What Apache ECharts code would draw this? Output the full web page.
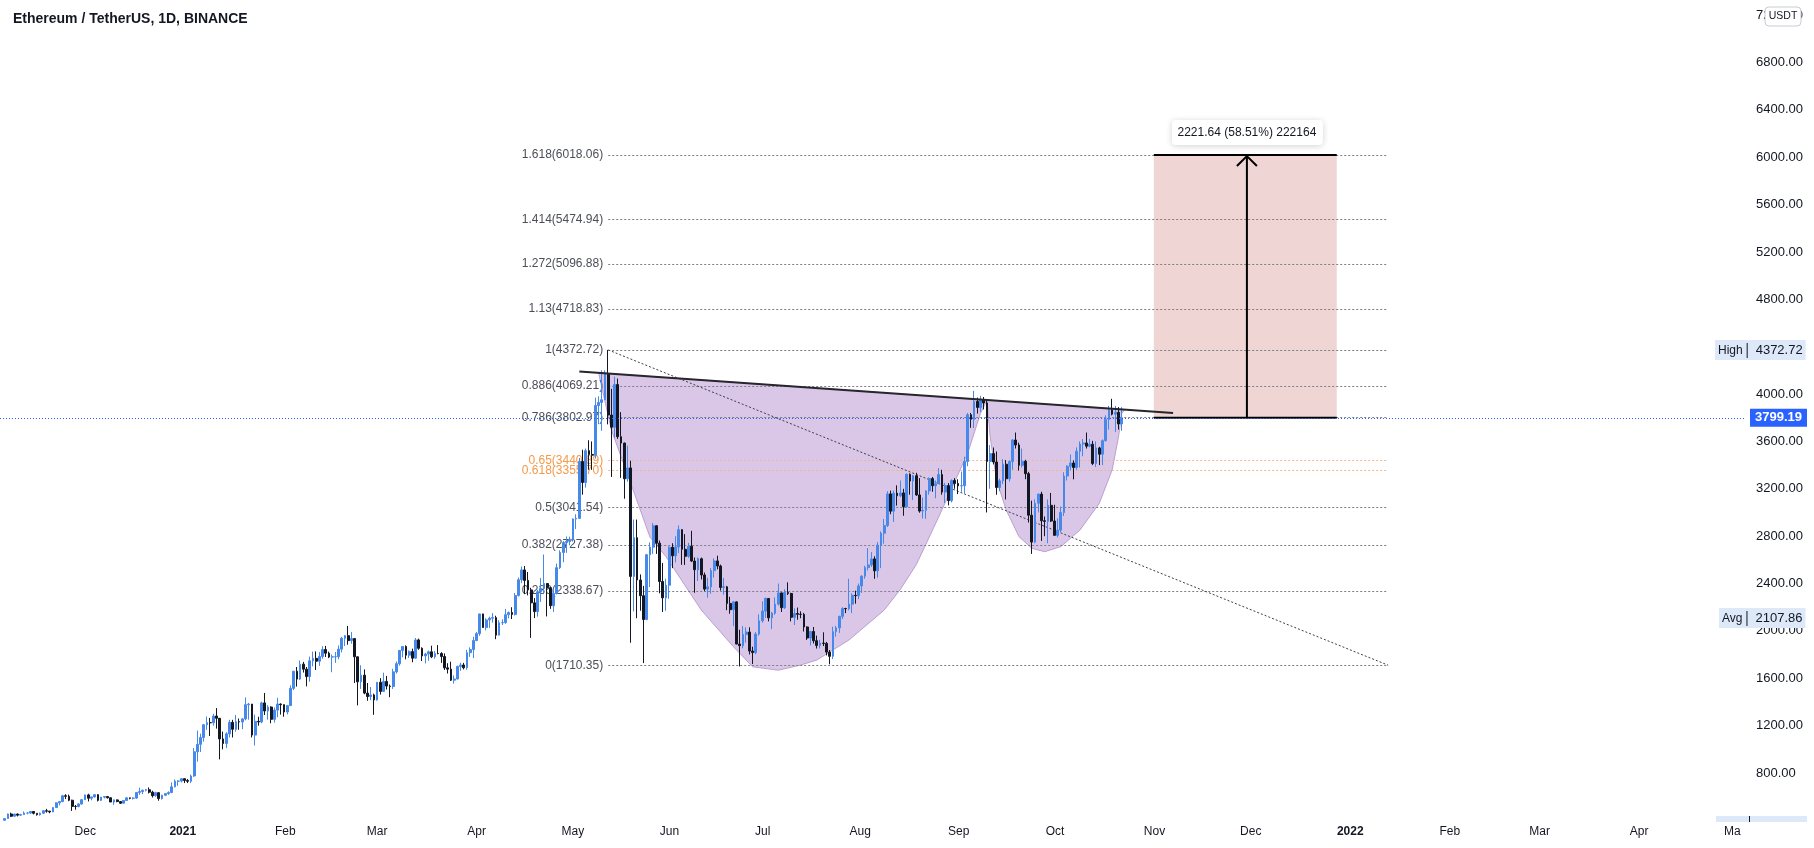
<!DOCTYPE html>
<html><head><meta charset="utf-8">
<script src="https://cdn.jsdelivr.net/npm/echarts@6/dist/echarts.min.js"></script>
<style>html,body{margin:0;padding:0;background:#fff}#c{width:1814px;height:848px}</style>
</head><body><div id="c"></div><script>
// ---------- DATA ----------
const titleText = 'Ethereum / TetherUS, 1D, BINANCE';
const firstDay = [2020, 10, 4];          // first slot on the time axis (2020-11-04)
const dayCount = 544;                     // slots up to 2022-05-01
const firstCandleDate = '2020-11-05';
// daily rows: [open, high, low, close]
const nov2020 = [[401,419,398,415],[415,457,414,454],[454,465,428,435],[435,455,432,453],[453,458,433,444],[444,455,440,449],[449,475,448,462],[462,467,451,462],[462,478,455,475],[475,476,450,460],[460,461,440,448],[448,466,440,460],[460,485,455,481],[481,497,465,478],[478,480,460,471],[471,512,470,508],[508,552,508,548],[548,562,527,559],[559,615,553,608],[608,621,580,603],[603,618,562,570],[570,575,480,518],[518,530,490,517],[517,545,510,538],[538,579,533,575],[575,617,571,615]];
const dec2020 = [[615,625,560,587],[587,599,570,598],[598,622,593,617],[617,621,560,569],[569,598,563,596],[596,605,585,601],[601,605,584,591],[591,592,555,555],[555,576,531,573],[573,576,553,559],[559,560,538,545],[545,570,543,568],[568,597,566,590],[590,591,578,586],[586,595,576,588],[588,638,582,636],[636,676,616,643],[643,660,622,654],[654,666,645,659],[659,678,627,638],[638,650,593,608],[608,642,600,634],[634,636,566,584],[584,616,576,612],[612,628,605,626],[626,645,615,635],[635,720,630,683],[683,745,679,731],[731,738,692,732],[732,754,720,752],[752,753,715,737]];
const jan2021 = [[737,749,715,730],[730,787,715,775],[775,1011,768,979],[979,1158,895,1042],[1042,1132,977,1100],[1100,1210,1065,1208],[1208,1277,1164,1225],[1225,1265,1113,1224],[1224,1300,1200,1281],[1281,1348,1175,1262],[1262,1264,915,1088],[1088,1150,1000,1049],[1049,1145,1010,1131],[1131,1249,1100,1228],[1228,1249,1100,1169],[1169,1290,1149,1233],[1233,1260,1165,1231],[1231,1263,1170,1257],[1257,1438,1245,1377],[1377,1392,1250,1382],[1382,1383,1100,1120],[1120,1293,1032,1236],[1236,1275,1200,1231],[1231,1402,1220,1392],[1392,1476,1290,1324],[1324,1373,1250,1357],[1357,1363,1220,1253],[1253,1353,1225,1331],[1331,1435,1271,1382],[1382,1388,1293,1377],[1377,1378,1275,1315]];
const feb2021 = [[1315,1375,1295,1369],[1369,1540,1368,1515],[1515,1660,1500,1660],[1660,1695,1530,1593],[1593,1750,1585,1719],[1719,1738,1648,1677],[1677,1695,1531,1614],[1614,1783,1571,1747],[1747,1825,1700,1768],[1768,1827,1670,1744],[1744,1821,1705,1784],[1784,1870,1765,1843],[1843,1873,1780,1812],[1812,1825,1770,1779],[1779,1800,1651,1781],[1781,1822,1730,1782],[1782,1877,1760,1846],[1846,1950,1818,1938],[1938,1964,1872,1960],[1960,2042,1883,1918],[1918,1990,1892,1935],[1935,1940,1560,1781],[1781,1782,1371,1570],[1570,1710,1510,1626],[1626,1675,1465,1475],[1475,1560,1410,1446],[1446,1526,1415,1459],[1459,1470,1291,1417]];
const mar2021 = [[1417,1567,1412,1566],[1566,1601,1462,1489],[1489,1647,1487,1573],[1573,1620,1505,1534],[1534,1547,1440,1530],[1530,1680,1510,1654],[1654,1742,1640,1723],[1723,1838,1706,1835],[1835,1870,1777,1868],[1868,1878,1760,1795],[1795,1835,1772,1825],[1825,1850,1735,1770],[1770,1940,1765,1924],[1924,1935,1840,1853],[1853,1861,1745,1789],[1789,1815,1725,1805],[1805,1834,1748,1823],[1823,1875,1770,1781],[1781,1830,1765,1810],[1810,1880,1802,1809],[1809,1820,1730,1784],[1784,1810,1670,1688],[1688,1727,1640,1677],[1677,1740,1577,1584],[1584,1624,1555,1594],[1594,1706,1590,1700],[1700,1731,1663,1712],[1712,1730,1675,1689],[1689,1840,1672,1816],[1816,1861,1780,1842],[1842,1950,1770,1919]];
const apr2021 = [[1919,1990,1913,1977],[1977,2145,1958,2143],[2143,2145,2028,2028],[2028,2107,2005,2093],[2093,2120,2025,2107],[2107,2150,2070,2112],[2112,2128,1930,1964],[1964,2090,1962,2069],[2069,2098,2050,2070],[2070,2186,2060,2137],[2137,2164,2106,2155],[2155,2200,2100,2139],[2139,2320,2130,2299],[2299,2450,2290,2432],[2432,2543,2403,2515],[2515,2548,2310,2426],[2426,2497,2300,2346],[2346,2364,1941,2237],[2237,2277,2108,2163],[2163,2348,2120,2331],[2331,2446,2245,2358],[2358,2645,2310,2400],[2400,2400,2122,2365],[2365,2371,2186,2213],[2213,2358,2160,2316],[2316,2568,2307,2534],[2534,2680,2523,2662],[2662,2758,2580,2746],[2746,2797,2659,2757],[2757,2796,2723,2773]];
const may2021 = [[2773,2950,2755,2945],[2945,2985,2860,2950],[2950,3460,2945,3431],[3431,3530,3150,3253],[3253,3540,3210,3522],[3522,3610,3360,3490],[3490,3600,3360,3484],[3484,3970,3455,3903],[3903,3980,3745,3929],[3929,4200,3690,3952],[3952,4200,3950,4171],[4171,4372.72,3744,3823],[3823,4044,3300,3720],[3720,4147,3630,4080],[4080,4131,3621,3640],[3640,3847,3292,3586],[3586,3590,3116,3284],[3284,3564,3260,3376],[3376,3437,1900,2460],[2460,2940,2165,2787],[2787,2940,2107,2430],[2430,2477,2170,2297],[2297,2380,1728,2096],[2096,2650,2090,2643],[2643,2747,2370,2707],[2707,2910,2650,2888],[2888,2890,2650,2741],[2741,2763,2317,2417],[2417,2574,2160,2279],[2279,2440,2170,2386],[2386,2714,2271,2706]];
const jun2021 = [[2706,2740,2530,2634],[2634,2800,2579,2708],[2708,2891,2657,2855],[2855,2858,2558,2689],[2689,2817,2557,2630],[2630,2743,2616,2715],[2715,2845,2581,2590],[2590,2620,2322,2517],[2517,2620,2421,2609],[2609,2619,2434,2472],[2472,2493,2335,2353],[2353,2448,2280,2372],[2372,2530,2313,2509],[2509,2612,2450,2591],[2591,2635,2520,2548],[2548,2560,2340,2367],[2367,2447,2306,2372],[2372,2380,2175,2232],[2232,2288,2145,2179],[2179,2250,2040,2245],[2245,2250,1887,1889],[1889,2010,1700,1875],[1875,2040,1853,1970],[1970,2030,1900,1990],[1990,2030,1801,1830],[1830,1866,1720,1817],[1817,1990,1803,1973],[1973,2140,1960,2085],[2085,2250,2070,2167],[2167,2282,2110,2274]];
const jul2021 = [[2274,2275,2080,2110],[2110,2160,2015,2150],[2150,2282,2136,2226],[2226,2400,2214,2321],[2321,2323,2160,2196],[2196,2352,2185,2324],[2324,2410,2303,2316],[2316,2322,2080,2115],[2115,2190,2050,2147],[2147,2197,2094,2140],[2140,2165,2107,2139],[2139,2152,1995,2033],[2033,2038,1924,1940],[1940,2000,1878,1995],[1995,2033,1894,1917],[1917,1960,1851,1877],[1877,1925,1853,1897],[1897,1988,1872,1894],[1894,1907,1793,1821],[1821,1839,1718,1785],[1785,2035,1762,1994],[1994,2042,1951,2025],[2025,2128,1983,2123],[2123,2200,2100,2189],[2189,2195,2150,2187],[2187,2440,2174,2226],[2226,2317,2150,2300],[2300,2340,2230,2297],[2297,2400,2268,2380],[2380,2470,2320,2462],[2462,2550,2440,2535]];
const aug2021 = [[2535,2700,2510,2557],[2557,2665,2540,2608],[2608,2630,2440,2507],[2507,2750,2450,2725],[2725,2840,2530,2825],[2825,2945,2737,2890],[2890,3180,2877,3157],[3157,3185,2985,3011],[3011,3185,2920,3163],[3163,3229,3058,3141],[3141,3270,3130,3165],[3165,3200,2972,3049],[3049,3330,3040,3322],[3322,3330,3150,3266],[3266,3318,3105,3310],[3310,3335,3140,3148],[3148,3290,2998,3012],[3012,3125,2950,3018],[3018,3187,2946,3182],[3182,3297,3150,3286],[3286,3300,3175,3226],[3226,3270,3120,3243],[3243,3375,3240,3320],[3320,3360,3150,3172],[3172,3250,3080,3227],[3227,3249,3060,3100],[3100,3280,3085,3270],[3270,3290,3200,3245],[3245,3280,3155,3225],[3225,3345,3175,3226],[3226,3470,3160,3430]];
const sep2021 = [[3430,3840,3390,3825],[3825,3840,3715,3787],[3787,4027,3713,3937],[3937,3970,3835,3887],[3887,3985,3848,3951],[3951,3975,3870,3925],[3925,3951,3000,3431],[3431,3570,3200,3497],[3497,3549,3406,3426],[3426,3515,3150,3211],[3211,3285,3180,3267],[3267,3450,3240,3407],[3407,3443,3110,3285],[3285,3440,3260,3430],[3430,3620,3360,3612],[3612,3675,3540,3570],[3570,3590,3354,3398],[3398,3540,3380,3433],[3433,3445,3281,3328],[3328,3343,2915,2977],[2977,3100,2650,2750],[2750,3110,2740,3078],[3078,3160,3000,3155],[3155,3175,2760,2930],[2930,2966,2800,2925],[2925,3110,2740,3060],[3060,3165,2920,2928],[2928,3065,2805,2807],[2807,2950,2790,2851],[2851,3050,2835,3000]];
const oct2021 = [[3000,3340,2970,3308],[3308,3400,3270,3390],[3390,3490,3355,3418],[3418,3440,3280,3380],[3380,3550,3360,3517],[3517,3600,3380,3578],[3578,3620,3475,3587],[3587,3675,3540,3560],[3560,3620,3550,3576],[3576,3605,3400,3414],[3414,3600,3385,3545],[3545,3555,3400,3492],[3492,3617,3400,3606],[3606,3820,3600,3786],[3786,3900,3700,3865],[3865,3960,3820,3830],[3830,3900,3680,3846],[3846,3890,3700,3748],[3748,3890,3690,3799.19]];

// Fibonacci retracement
const fibRatios = ['1.618','1.414','1.272','1.13','1','0.886','0.786','0.65','0.618','0.5','0.382','0.236','0'];
const fibPrices = [6018.06,5474.94,5096.88,4718.83,4372.72,4069.21,3802.97,3440.89,3355.70,3041.54,2727.38,2338.67,1710.35];
const fibOrange = ['0.65','0.618'];
const fibStartDate = '2021-05-12';
const fibEndDate = '2022-01-10';
// resistance trend line
const trendDates = ['2021-05-03','2021-11-04'];
const trendPrices = [4190, 3840];
// cup & handle outline (date, price)
const cupDates = ['2021-05-09','2021-10-20','2021-10-19','2021-10-18','2021-10-16','2021-10-12','2021-10-06','2021-09-30','2021-09-25','2021-09-21','2021-09-17','2021-09-13','2021-09-10','2021-09-08','2021-09-07','2021-09-05','2021-09-01','2021-08-23','2021-08-16','2021-08-11','2021-08-06','2021-07-26','2021-07-16','2021-07-11','2021-07-04','2021-06-26','2021-06-20','2021-06-10','2021-05-30','2021-05-25','2021-05-19','2021-05-13'];
const cupPrices = [4179,3868,3837,3640,3359,3077,2852,2711,2669,2697,2795,3021,3274,3640,3950,3837,3500,2964,2560,2350,2176,1923,1754,1712,1668,1697,1867,2176,2627,2793,3249,3696];
// target projection box
const targetDates = ['2021-10-29','2021-12-25'];
const targetPrices = [3799.19, 6018.06];
const arrowDate = '2021-11-27';
const measureLabel = '2221.64 (58.51%) 222164';
// price scale tags
const lastPrice = 3799.19;
const highPrice = 4372.72;
const avgPrice = 2107.86;
const priceTicks = [800,1200,1600,2000,2400,2800,3200,3600,4000,4800,5200,5600,6000,6400,6800,7200];
const monthNames = ['Jan','Feb','Mar','Apr','May','Jun','Jul','Aug','Sep','Oct','Nov','Dec'];

// ---------- BUILD ----------
const categories = [];
for (let i = 0; i < dayCount; i++) {
  const d = new Date(Date.UTC(firstDay[0], firstDay[1], firstDay[2] + i));
  categories.push(d.toISOString().slice(0, 10));
}
const catIndex = {};
categories.forEach((d, i) => { catIndex[d] = i; });
const candleRows = [].concat(nov2020, dec2020, jan2021, feb2021, mar2021, apr2021, may2021, jun2021, jul2021, aug2021, sep2021, oct2021);
const c0 = catIndex[firstCandleDate];
const candleData = categories.map((d, i) => {
  const r = candleRows[i - c0];
  return r ? [r[0], r[3], r[2], r[1]] : '-';
});

const UP = '#4689ea', DOWN = '#131722', TXT = '#131722';
const FONT = 'Liberation Sans';
const NOLINE = { color: 'rgba(0,0,0,0)', width: 0 };

// time-label nudge (px to the left), as placed in the screenshot
const labelNudge = { '2020-12': 3, '2021-01': 5, '2021-02': 2, '2021-06': 3, '2021-07': 6, '2021-08': 8 };
function nudgeOf(ym) { return labelNudge[ym] != null ? labelNudge[ym] : (ym >= '2021-09' ? 9 : 0); }
const xRich = {};
for (let s = 0; s <= 10; s++) {
  xRich['m' + s] = { fontSize: 12, color: TXT, fontFamily: FONT, padding: [0, 2 * s, 0, 0] };
  xRich['y' + s] = { fontSize: 12, color: TXT, fontFamily: FONT, fontWeight: 'bold', padding: [0, 2 * s, 0, 0] };
}

const fibLines = fibRatios.map((r, i) => {
  const orange = fibOrange.includes(r);
  return [
    { coord: [catIndex[fibStartDate], fibPrices[i]],
      lineStyle: { color: orange ? '#f4b48c' : '#7c7f88', type: [2, 2], width: 1 },
      label: { show: true, position: 'start', distance: 5, formatter: r + '(' + fibPrices[i].toFixed(2) + ')',
               color: orange ? '#f3994a' : '#4c4f58', fontSize: 12, fontFamily: FONT } },
    { coord: [catIndex[fibEndDate], fibPrices[i]] }
  ];
});
fibLines.push([
  { coord: [catIndex[fibStartDate], fibPrices[4]], lineStyle: { color: '#3c3f48', type: [2, 2], width: 1 }, label: { show: false } },
  { coord: [catIndex[fibEndDate], fibPrices[12]] }
]);

function tagLabel(name, value, offX) {
  return {
    show: true, position: 'end', distance: 0, offset: [offX, 0], color: TXT,
    formatter: '{n|' + name + '}{a| }{b| }{c| }{v|' + value.toFixed(2) + '}',
    backgroundColor: '#dde9f8', padding: [3, 3, 2, 3],
    rich: {
      n: { color: TXT, fontSize: 12, fontFamily: FONT },
      a: { width: 4 },
      b: { width: 1, height: 15, backgroundColor: TXT },
      c: { width: 8 },
      v: { color: TXT, fontSize: 13, fontFamily: FONT }
    }
  };
}

const chart = echarts.init(document.getElementById('c'), null, { renderer: 'canvas' });
chart.setOption({
  animation: false,
  backgroundColor: '#ffffff',
  textStyle: { fontFamily: FONT },
  title: { text: titleText, left: 8, top: 7, textStyle: { fontSize: 14, fontWeight: 'bold', color: TXT, fontFamily: FONT } },
  grid: { left: 0, right: 68, top: 0, bottom: 26 },
  xAxis: {
    type: 'category', data: categories, boundaryGap: true,
    axisLine: { show: false }, axisTick: { show: false }, splitLine: { show: false },
    axisLabel: {
      interval: (i, v) => v.slice(8) === '01',
      margin: 4, fontSize: 12, color: TXT, fontFamily: FONT,
      formatter: v => {
        const m = +v.slice(5, 7);
        const s = nudgeOf(v.slice(0, 7));
        return m === 1 ? '{y' + s + '|' + v.slice(0, 4) + '}' : '{m' + s + '|' + monthNames[m - 1] + '}';
      },
      rich: xRich
    }
  },
  yAxis: {
    type: 'value', position: 'right', min: 386.2, max: 7327.6, scale: true,
    axisLine: { show: false }, axisTick: { show: false }, splitLine: { show: false },
    axisLabel: { customValues: priceTicks, formatter: v => v.toFixed(2), margin: 10, fontSize: 13, color: TXT, fontFamily: FONT }
  },
  series: [
    { // cup and handle fill
      type: 'custom', z: 1, silent: true, data: [[0, 1000]],
      renderItem: (p, api) => ({
        type: 'polygon',
        shape: { points: cupDates.map((d, i) => api.coord([catIndex[d], cupPrices[i]])) },
        style: { fill: '#dac6e6', stroke: '#bb9fd1', lineWidth: 1 }
      })
    },
    { // target box fill
      type: 'custom', z: 1, silent: true, data: [[0, 1000]],
      renderItem: (p, api) => {
        const tl = api.coord([catIndex[targetDates[0]], targetPrices[1]]);
        const br = api.coord([catIndex[targetDates[1]], targetPrices[0]]);
        return { type: 'rect', shape: { x: tl[0], y: tl[1], width: br[0] - tl[0], height: br[1] - tl[1] }, style: { fill: '#f0d5d5' } };
      }
    },
    {
      type: 'candlestick', z: 3, data: candleData, barWidth: '70%',
      itemStyle: { color: UP, color0: DOWN, borderColor: UP, borderColor0: DOWN, borderWidth: 1 },
      markLine: {
        z: 6, silent: true, symbol: ['none', 'none'], animation: false,
        data: [
          { yAxis: lastPrice, lineStyle: { color: '#2962ff', type: [1, 2], width: 1 },
            label: { show: true, position: 'end', distance: 4, formatter: lastPrice.toFixed(2), backgroundColor: '#2962ff',
                     color: '#fff', fontWeight: 'bold', fontSize: 13, fontFamily: FONT, padding: [3, 5, 2, 5] } },
          { yAxis: highPrice, lineStyle: NOLINE, label: tagLabel('High', highPrice, -31) },
          { yAxis: avgPrice, lineStyle: NOLINE, label: tagLabel('Avg', avgPrice, -27) }
        ]
      }
    },
    { // resistance trend line + fib levels
      type: 'line', z: 4, silent: true, showSymbol: false, symbol: 'none',
      data: trendDates.map((d, i) => [catIndex[d], trendPrices[i]]),
      lineStyle: { color: '#26262c', width: 2 },
      markLine: { z: 2, silent: true, symbol: ['none', 'none'], animation: false, data: fibLines }
    },
    { // target lines, arrow and measure label
      type: 'custom', z: 5, silent: true, data: [[0, 1000]],
      renderItem: (p, api) => {
        const tl = api.coord([catIndex[targetDates[0]], targetPrices[1]]);
        const br = api.coord([catIndex[targetDates[1]], targetPrices[0]]);
        const a = api.coord([catIndex[arrowDate], targetPrices[0]]);
        const b = api.coord([catIndex[arrowDate], targetPrices[1]]);
        const ls = { stroke: '#000', lineWidth: 2, fill: null };
        return { type: 'group', children: [
          { type: 'line', shape: { x1: tl[0], y1: tl[1], x2: br[0], y2: tl[1] }, style: ls },
          { type: 'line', shape: { x1: tl[0], y1: br[1], x2: br[0], y2: br[1] }, style: ls },
          { type: 'line', shape: { x1: a[0], y1: a[1], x2: b[0], y2: b[1] + 1 }, style: ls },
          { type: 'polyline', shape: { points: [[b[0] - 10, b[1] + 11], [b[0], b[1] + 1], [b[0] + 10, b[1] + 11]] }, style: ls },
          { type: 'rect', shape: { x: b[0] - 75, y: b[1] - 35, width: 151, height: 25, r: 4 },
            style: { fill: '#ffffff', shadowBlur: 6, shadowColor: 'rgba(0,0,0,0.18)', shadowOffsetY: 1 } },
          { type: 'text', x: b[0], y: b[1] - 22.5,
            style: { text: measureLabel, fill: TXT, fontSize: 12, fontFamily: FONT, align: 'center', verticalAlign: 'middle' } }
        ] };
      }
    }
  ],
  graphic: [
    { type: 'rect', z: 100, shape: { x: 1765, y: 7, width: 36, height: 19, r: 4 }, style: { fill: '#ffffff', stroke: '#c9ccd4', lineWidth: 1 } },
    { type: 'text', z: 101, x: 1783, y: 16.5, style: { text: 'USDT', fontSize: 10.5, fontFamily: FONT, fill: TXT, align: 'center', verticalAlign: 'middle' } },
    { type: 'rect', z: 100, shape: { x: 1716, y: 816, width: 91, height: 6 }, style: { fill: '#dde9f8' } },
    { type: 'rect', z: 101, shape: { x: 1749, y: 816, width: 1, height: 6 }, style: { fill: TXT } },
    { type: 'rect', z: 100, shape: { x: 1741, y: 823, width: 73, height: 25 }, style: { fill: '#ffffff' } }
  ]
});
</script></body></html>
